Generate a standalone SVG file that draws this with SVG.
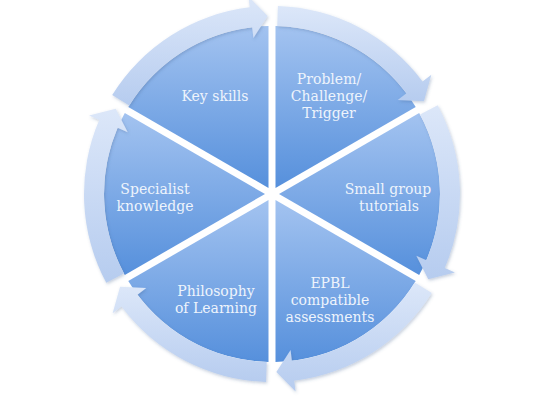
<svg xmlns="http://www.w3.org/2000/svg" width="545" height="401" viewBox="0 0 545 401">
  <defs>
    <linearGradient id="seg" x1="0" y1="0" x2="0" y2="1">
      <stop offset="0" stop-color="#a3c3f0"/>
      <stop offset="1" stop-color="#5690dc"/>
    </linearGradient>
    <linearGradient id="arr" x1="0" y1="0" x2="0" y2="1">
      <stop offset="0" stop-color="#dce7f9"/>
      <stop offset="1" stop-color="#b6ccef"/>
    </linearGradient>
    <filter id="sh" x="-10%" y="-10%" width="120%" height="120%">
      <feDropShadow dx="1" dy="1.5" stdDeviation="1.5" flood-color="#3d5f8f" flood-opacity="0.3"/>
    </filter>
  </defs>
  <style>
    .seg { fill: url(#seg); }
    .arr { fill: url(#arr); filter: url(#sh); }
    .lbl { font-family: "DejaVu Serif", "Liberation Serif", serif; font-size: 14px; fill: #eef4fc; text-anchor: middle; }
  </style>
  <rect width="545" height="401" fill="#ffffff"/>
  <g id="key-skills">
    <path class="seg" d="M268.5,187.94 L128.28,106.99 A168,168 0 0,1 268.51,26.04 Z"/>
    <text class="lbl" x="215" y="101">Key skills</text>
  </g>
  <g id="problem">
    <path class="seg" d="M275.5,187.94 L275.49,26.04 A168,168 0 0,1 415.72,106.99 Z"/>
    <text class="lbl" x="329" y="84">Problem/</text>
    <text class="lbl" x="329" y="101">Challenge/</text>
    <text class="lbl" x="329" y="118">Trigger</text>
  </g>
  <g id="small-group">
    <path class="seg" d="M279,194 L419.2,113.04 A168,168 0 0,1 419.2,274.96 Z"/>
    <text class="lbl" x="388" y="194">Small group</text>
    <text class="lbl" x="389" y="211">tutorials</text>
  </g>
  <g id="epbl">
    <path class="seg" d="M275.5,200.06 L415.72,281.01 A168,168 0 0,1 275.49,361.96 Z"/>
    <text class="lbl" x="330" y="288">EPBL</text>
    <text class="lbl" x="330" y="305">compatible</text>
    <text class="lbl" x="330" y="322">assessments</text>
  </g>
  <g id="philosophy">
    <path class="seg" d="M268.5,200.06 L268.51,361.96 A168,168 0 0,1 128.28,281.01 Z"/>
    <text class="lbl" x="216" y="296">Philosophy</text>
    <text class="lbl" x="216" y="313">of Learning</text>
  </g>
  <g id="specialist">
    <path class="seg" d="M265,194 L124.8,274.96 A168,168 0 0,1 124.8,113.04 Z"/>
    <text class="lbl" x="155" y="194">Specialist</text>
    <text class="lbl" x="155" y="211">knowledge</text>
  </g>
  <g id="connectors">
    <path class="arr" d="M112.22,94.93 A188,188 0 0,1 249.74,7.32 L248.44,-3.6 L267.65,16.05 L253.41,38.1 L252.11,27.18 A168,168 0 0,0 129.22,105.47 Z"/>
    <path class="arr" d="M277.91,6.09 A188,188 0 0,1 422.54,81.38 L431.35,74.8 L423.94,101.26 L397.72,99.95 L406.53,93.36 A168,168 0 0,0 277.28,26.08 Z"/>
    <path class="arr" d="M437.69,105.16 A188,188 0 0,1 444.8,268.06 L454.91,272.4 L428.28,279.21 L416.31,255.85 L426.42,260.19 A168,168 0 0,0 420.06,114.61 Z"/>
    <path class="arr" d="M431.78,293.07 A188,188 0 0,1 294.26,380.68 L295.56,391.6 L276.35,371.95 L290.59,349.9 L291.89,360.82 A168,168 0 0,0 414.78,282.53 Z"/>
    <path class="arr" d="M266.09,381.91 A188,188 0 0,1 121.46,306.62 L112.65,313.2 L120.06,286.74 L146.28,288.05 L137.47,294.64 A168,168 0 0,0 266.72,361.92 Z"/>
    <path class="arr" d="M106.31,282.84 A188,188 0 0,1 99.2,119.94 L89.09,115.6 L115.72,108.79 L127.69,132.15 L117.58,127.81 A168,168 0 0,0 123.94,273.39 Z"/>
  </g>
</svg>
